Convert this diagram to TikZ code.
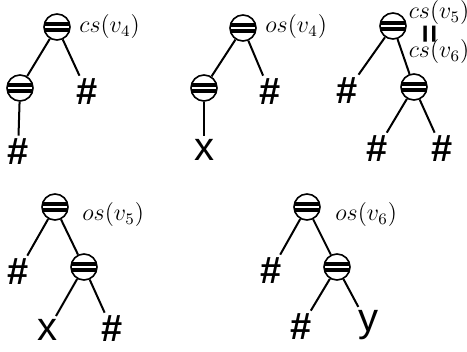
\documentclass[tikz,border=0pt]{standalone}
\usepackage{fontspec}
\newfontfamily\leaffont{Liberation Sans}[BoldFont={Liberation Sans Bold}]
\usetikzlibrary{positioning}

\begin{document}
\begin{tikzpicture}[
      x=0.5pt, y=-0.5pt,
      op/.style={circle, draw, line width=0.8pt, fill=white, minimum size=13pt, inner sep=0pt,
        path picture={
          \fill[black] ([yshift=0.55pt]path picture bounding box.west) rectangle ([yshift=2.7pt]path picture bounding box.east);
          \fill[black] ([yshift=-0.55pt]path picture bounding box.west) rectangle ([yshift=-2.7pt]path picture bounding box.east);
        }},
      hash/.style={inner sep=1.5pt, font=\leaffont\bfseries\fontsize{19}{19}\selectfont},
      var/.style={inner sep=1.5pt, font=\leaffont\fontsize{20}{20}\selectfont},
      lbl/.style={inner sep=0pt, anchor=west, font=\fontsize{11.5}{13}\selectfont},
      edge/.style={line width=1pt}
    ]
    \useasboundingbox (0,0) rectangle (467,352);

    % cs(v4)
    \node[op] (a) at (57,27) {};
    \node[op] (a1) at (20,88) {};
    \node[hash] (a2) at (87,92) {\#};
    \node[hash] (a11) at (18,152) {\#};
    \node[lbl] at (79,27) {$cs(v_4)$};
    \draw[edge] (a) -- (a1);
    \draw[edge] (a) -- (a2);
    \draw[edge] (a1) -- (a11);

    % os(v4)
    \node[op] (b) at (243,28) {};
    \node[op] (b1) at (204,88) {};
    \node[hash] (b2) at (270,92) {\#};
    \node[var] (b11) at (204,150) {x};
    \node[lbl] at (265,27) {$os(v_4)$};
    \draw[edge] (b) -- (b1);
    \draw[edge] (b) -- (b2);
    \draw[edge] (b1) -- (b11);

    % cs(v5) = cs(v6)
    \node[op] (c) at (393,26) {};
    \node[hash] (c1) at (347,91) {\#};
    \node[op] (c2) at (414,87) {};
    \node[hash] (c21) at (377,149) {\#};
    \node[hash] (c22) at (442,149) {\#};
    \node[lbl, anchor=center] (ctop) at (439,13) {$cs(v_5)$};
    \node[rotate=90, inner sep=0pt, font=\leaffont\bfseries\fontsize{16}{16}\selectfont] (ceq) at (432,34) {=};
    \node[lbl, anchor=center] (cbot) at (439,52) {$cs(v_6)$};
    \draw[edge] (c) -- (c1);
    \draw[edge] (c) -- (c2);
    \draw[edge] (c2) -- (c21);
    \draw[edge] (c2) -- (c22);

    % os(v5)
    \node[op] (d) at (55,207) {};
    \node[hash] (d1) at (18,272) {\#};
    \node[op] (d2) at (84,267) {};
    \node[var] (d21) at (48,330) {x};
    \node[hash] (d22) at (112,329) {\#};
    \node[lbl] at (82,215) {$os(v_5)$};
    \draw[edge] (d) -- (d1);
    \draw[edge] (d) -- (d2);
    \draw[edge] (d2) -- (d21);
    \draw[edge] (d2) -- (d22);

    % os(v6)
    \node[op] (e) at (307,207) {};
    \node[hash] (e1) at (271,271) {\#};
    \node[op] (e2) at (337,267) {};
    \node[hash] (e21) at (301,327) {\#};
    \node[var] (e22) at (368,325) {y};
    \node[lbl] at (335,215) {$os(v_6)$};
    \draw[edge] (e) -- (e1);
    \draw[edge] (e) -- (e2);
    \draw[edge] (e2) -- (e21);
    \draw[edge] (e2) -- (e22);
  \end{tikzpicture}
\end{document}
